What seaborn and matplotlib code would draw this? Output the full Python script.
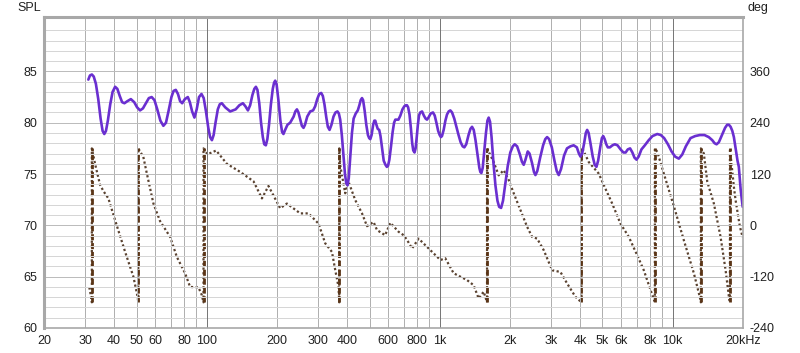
import numpy as np
import pandas as pd
import matplotlib
matplotlib.use("Agg")
import matplotlib.pyplot as plt
import seaborn as sns
from matplotlib.ticker import FixedLocator, NullFormatter

# ---------------- data ----------------
spl_freq = [31.0, 31.5, 32.1, 32.7, 33.4, 34.2, 35.0, 35.7, 36.3, 36.9, 37.6, 38.5, 39.4, 40.4,
            41.3, 42.3, 43.3, 44.3, 45.6, 47.2, 48.8, 50.2, 51.7, 53.2, 54.8, 56.4, 58.0, 59.6,
            61.3, 63.2, 65.1, 66.8, 68.6, 70.5, 72.0, 73.6, 75.2, 76.8, 78.4, 80.5, 82.9, 84.6,
            86.5, 88.5, 90.5, 92.6, 94.9, 97.0, 99.2, 101.5, 103.3, 105.2, 107.0, 109.0, 111.5,
            113.7, 116.0, 120.0, 126.0, 133.0, 138.0, 142.9, 146.5, 150.2, 153.5, 157.0, 160.0,
            162.5, 165.0, 168.0, 171.0, 174.0, 176.5, 179.3, 182.0, 185.0, 188.5, 192.0, 194.5,
            196.7, 199.5, 203.0, 207.0, 210.5, 213.4, 217.0, 222.0, 228.0, 236.0, 240.0, 243.8,
            247.5, 252.0, 256.0, 260.2, 264.0, 270.0, 278.0, 286.0, 292.0, 298.0, 304.0, 310.0,
            315.0, 320.0, 326.0, 331.0, 336.6, 343.0, 350.0, 357.0, 364.0, 369.0, 374.0, 380.0,
            386.0, 392.0, 397.0, 402.0, 407.0, 414.0, 420.0, 427.0, 436.0, 445.0, 452.0, 458.0,
            463.9, 469.0, 476.0, 484.0, 492.0, 498.0, 503.5, 510.0, 518.0, 524.0, 529.0, 535.0,
            542.0, 550.0, 557.0, 565.0, 575.0, 585.0, 593.0, 600.0, 608.0, 618.0, 628.0, 637.0,
            645.0, 655.0, 665.0, 678.0, 692.0, 705.0, 715.0, 723.8, 732.0, 742.0, 752.0, 762.0,
            770.0, 780.0, 788.0, 797.0, 806.0, 815.0, 825.0, 840.0, 855.0, 870.0, 882.0, 895.0,
            915.0, 936.0, 952.0, 968.0, 985.0, 1000.0, 1012.0, 1023.0, 1040.0, 1058.0, 1075.0,
            1093.0, 1111.0, 1130.0, 1155.0, 1180.0, 1205.0, 1230.0, 1255.0, 1276.0, 1300.0,
            1330.0, 1355.0, 1377.0, 1400.0, 1425.0, 1455.0, 1480.0, 1495.0, 1510.0, 1530.0,
            1555.0, 1580.0, 1603.0, 1623.0, 1645.0, 1670.0, 1700.0, 1735.0, 1770.0, 1800.0,
            1835.0, 1870.0, 1910.0, 1960.0, 2010.0, 2060.0, 2100.0, 2150.0, 2210.0, 2255.0,
            2295.0, 2335.0, 2388.0, 2430.0, 2490.0, 2540.0, 2577.0, 2625.0, 2700.0, 2780.0,
            2840.0, 2892.0, 2950.0, 3030.0, 3110.0, 3180.0, 3244.0, 3320.0, 3420.0, 3520.0,
            3643.0, 3760.0, 3880.0, 3960.0, 4023.0, 4090.0, 4170.0, 4240.0, 4297.0, 4360.0,
            4440.0, 4540.0, 4630.0, 4710.0, 4790.0, 4890.0, 4970.0, 5035.0, 5110.0, 5190.0,
            5271.0, 5380.0, 5520.0, 5650.0, 5800.0, 5980.0, 6150.0, 6286.0, 6420.0, 6570.0,
            6720.0, 6860.0, 7000.0, 7150.0, 7350.0, 7600.0, 7900.0, 8200.0, 8595.0, 8900.0,
            9200.0, 9550.0, 9900.0, 10250.0, 10636.0, 11000.0, 11400.0, 11940.0, 12500.0,
            13100.0, 13700.0, 14300.0, 14800.0, 15150.0, 15450.0, 15800.0, 16300.0, 16800.0,
            17150.0, 17450.0, 17750.0, 18050.0, 18330.0, 18650.0, 19000.0, 19250.0, 19600.0,
            20000.0]
spl_db = [84.2, 84.6, 84.7, 84.5, 83.8, 82.3, 80.4, 79.2, 78.9, 79.2, 80.2, 81.8, 83.0, 83.5,
          83.3, 82.6, 82.0, 81.9, 82.1, 82.3, 82.0, 81.5, 81.2, 81.4, 81.9, 82.4, 82.5, 82.2,
          81.3, 80.2, 79.7, 80.0, 81.2, 82.5, 83.1, 83.2, 82.8, 82.1, 81.9, 82.3, 82.5, 82.0,
          81.1, 80.5, 81.3, 82.5, 82.8, 82.4, 81.1, 79.5, 78.6, 78.3, 78.8, 80.0, 81.3,
          81.8, 81.9, 81.5, 81.1, 81.3, 81.7, 81.9, 81.6, 81.2, 81.7, 82.7, 83.3,
          83.5, 83.2, 81.9, 80.0, 78.6, 77.9, 77.8, 78.4, 79.8, 81.8, 83.3, 83.9,
          84.1, 83.7, 82.2, 80.2, 79.1, 78.9, 79.3, 79.8, 80.0, 80.6, 81.1, 81.3,
          81.0, 80.3, 79.7, 79.5, 79.8, 80.6, 81.1, 81.2, 81.6, 82.3, 82.8, 82.9,
          82.6, 81.8, 80.5, 79.6, 79.3, 79.8, 80.6, 81.0, 81.1, 80.9, 80.3, 78.8,
          76.9, 75.0, 74.1, 73.9, 74.6, 77.0, 79.0, 80.4, 80.9, 81.2, 81.7, 82.2,
          82.4, 82.2, 81.2, 79.8, 78.8, 78.5, 78.4, 78.8, 79.8, 80.2, 80.2, 79.8,
          79.4, 79.3, 78.7, 77.6, 76.3, 75.9, 75.7, 75.8, 76.4, 77.7, 79.1, 80.0,
          80.3, 80.3, 80.3, 80.7, 81.3, 81.6, 81.7, 81.7, 81.5, 80.8, 79.5, 78.0,
          77.3, 77.1, 77.5, 78.6, 79.8, 80.7, 81.0, 81.1, 80.7, 80.4, 80.3, 80.5,
          80.9, 81.0, 80.7, 80.0, 79.2, 78.8, 78.6, 78.7, 79.3, 80.2, 80.8,
          81.1, 81.2, 81.0, 80.4, 79.6, 78.8, 78.1, 77.7, 77.6, 77.9,
          78.8, 79.4, 79.6, 79.3, 78.3, 76.8, 75.6, 75.2, 75.1, 75.6,
          77.3, 79.0, 80.2, 80.5, 80.1, 78.6, 76.2, 73.9, 72.4, 71.8,
          71.7, 72.4, 73.9, 75.8, 77.1, 77.7, 77.9, 77.7, 76.9, 76.2,
          75.9, 76.4, 77.2, 77.0, 76.1, 75.2, 74.9, 75.3, 76.6, 77.8,
          78.4, 78.6, 78.4, 77.6, 76.3, 75.3, 74.9, 75.5, 76.8, 77.5,
          77.7, 77.8, 77.6, 77.0, 76.7, 77.0, 78.0, 79.0, 79.3, 79.0,
          78.0, 76.7, 75.9, 75.7, 76.3, 77.6, 78.5, 78.7, 78.4, 77.9,
          77.6, 77.6, 77.8, 77.9, 77.8, 77.4, 77.1, 77.1, 77.4, 77.5,
          77.1, 76.6, 76.4, 76.7, 77.4, 77.8, 78.3, 78.7, 78.9, 78.8,
          78.5, 77.9, 77.2, 76.7, 76.5, 76.9, 77.7, 78.5, 78.7,
          78.8, 78.8, 78.6, 78.3, 78.0, 77.9, 78.1, 78.8, 79.5,
          79.8, 79.8, 79.6, 79.2, 78.6, 77.5, 76.3, 75.7, 73.5,
          71.8]

# wrapped phase (deg); a repeated frequency marks a wrap from -180 to +180
phase_freq = [31.3, 31.8, 32.1, 32.1, 33.1, 34.8, 36.0, 37.8, 40.4, 44.6, 48.4, 50.5, 50.8,
              50.8, 53.4, 55.3, 59.0, 63.0, 69.6, 74.4, 80.7, 84.8, 92.1, 95.2, 96.8,
              96.8, 100.6, 109.7, 121.9, 139.1, 158.7, 172.5, 184.0, 206.6, 220.8, 251.9, 273.4,
              301.9, 322.5, 344.6, 356.2, 367.8, 370.5,
              370.5, 374, 393, 406, 434, 464, 487.5, 520, 538, 583, 614, 666, 700, 724, 761, 812,
              912, 1007, 1057, 1148, 1311, 1399, 1470, 1545, 1597,
              1597, 1706, 1792, 1883, 1979, 2079, 2221, 2372, 2494, 2621, 2797, 3040, 3300, 3526,
              3827, 4063,
              4063, 4131, 4366, 4821, 5066, 5504, 5975, 6487, 7049, 7524, 8039, 8392,
              8392, 8596, 9170, 10124, 11178, 12342, 13080, 13225,
              13225, 13620, 14090, 15040, 16070, 16890, 17450, 17630,
              17630, 18330, 18640, 19250, 19450, 20000]
phase_deg = [-145, -165, -180, 180, 145, 95, 80, 63, 12, -62, -120, -168, -180,
             180, 160, 121, 51, 10, -27, -74, -112, -144, -145, -163, -180,
             180, 166, 175, 144, 125, 103, 63, 92, 40, 51, 28, 28,
             4, -42, -62, -105, -144, -180,
             180, 140, 75, 102, 59, 28, -2, 8, -11, -23, 6, -15, -23, -34, -54, -31,
             -58, -81, -77, -112, -128, -140, -171, -155, -180,
             180, 148, 117, 129, 106, 75, 36, -3, -27, -31, -58, -105, -109, -136,
             -167, -180,
             180, 176, 148, 121, 94, 51, 4, -27, -70, -105, -151, -180,
             180, 172, 121, 45, -35, -112, -167, -180,
             180, 168, 102, 51, -27, -105, -167, -180,
             180, 90, 59, 12, -3, -28]

x_tick_values = [20, 30, 40, 50, 60, 80, 100, 200, 300, 400, 600, 800, 1000, 2000, 3000,
                 4000, 5000, 6000, 8000, 10000, 20000]
x_tick_labels = ["20", "30", "40", "50", "60", "80", "100", "200", "300", "400", "600", "800",
                 "1k", "2k", "3k", "4k", "5k", "6k", "8k", "10k", "20kHz"]
spl_ticks = [60, 65, 70, 75, 80, 85]
deg_ticks = [-240, -120, 0, 120, 240, 360]

# ---------------- style ----------------
sns.set_theme(style="white")
plt.rcParams['font.family'] = ['Liberation Sans', 'DejaVu Sans']

W, H = 800, 353
fig = plt.figure(figsize=(W / 100, H / 100), dpi=100)
fig.patch.set_facecolor("white")
L, R, T, B = 44, 742.7, 17, 328
ax = fig.add_axes([L / W, 1 - B / H, (R - L) / W, (B - T) / H])
ax2 = ax.twinx()

spl_lo, spl_hi = 60, 90.3
ax.set_xscale("log")

# layering: SPL axes on top
ax.set_zorder(2)
ax2.set_zorder(1)
ax.patch.set_visible(False)

# grid
grid_lw = 0.72  # one pixel
minor_x = [m * 10 ** d for d in range(1, 5) for m in range(1, 10) if 20 < m * 10 ** d < 20000]
ax.xaxis.set_major_locator(FixedLocator(x_tick_values))
ax.set_xticklabels(x_tick_labels)
ax.xaxis.set_minor_locator(FixedLocator(minor_x))
ax.xaxis.set_minor_formatter(NullFormatter())
ax.set_yticks(spl_ticks)
ax.yaxis.set_minor_locator(FixedLocator(list(range(61, 90))))
ax.grid(False)
ax.grid(which="minor", axis="y", color="#d6d6d6", linewidth=grid_lw, antialiased=False)
ax.grid(which="major", axis="y", color="#bcbcbc", linewidth=grid_lw, antialiased=False)
ax.grid(which="both", axis="x", color="#b0b0b0", linewidth=grid_lw, antialiased=False)
for d in [100, 1000, 10000]:
    ax.axvline(d, color="#787878", linewidth=grid_lw, zorder=0.6, antialiased=False)
ax.set_axisbelow(True)

# phase traces
phase_df = pd.DataFrame({"freq": phase_freq, "deg": phase_deg})
sns.lineplot(data=phase_df, x="freq", y="deg", ax=ax2, sort=False, estimator=None,
             color="#5a4230", linewidth=1.6, linestyle=(0, (1, 1.1)))
pf = np.array(phase_freq)
wraps = pf[:-1][np.isclose(pf[:-1], pf[1:])]
ax2.vlines(wraps, -180, 180, colors="#5a3416", linewidth=2.0,
           linestyles=(0, (2.2, 1.0)), gapcolor="#eab98a")

# SPL trace
spl_df = pd.DataFrame({"freq": spl_freq, "spl": spl_db})
sns.lineplot(data=spl_df, x="freq", y="spl", ax=ax, sort=False, estimator=None,
             color="#6a2fd0", linewidth=1.9)

ax.set_xlim(20, 20000)
ax.set_ylim(spl_lo, spl_hi)
ax2.set_ylim((spl_lo - 70) * 24, (spl_hi - 70) * 24)
ax2.set_yticks(deg_ticks)
ax2.set_yticklabels([str(v) for v in deg_ticks])
ax.set_xlabel("")
ax.set_ylabel("")
ax2.set_ylabel("")

for a in (ax, ax2):
    a.tick_params(which="both", length=0, labelsize=9, colors="#202020")
ax.tick_params(axis="x", pad=5)
ax.tick_params(axis="y", pad=5)
ax2.tick_params(axis="y", pad=5)

for s in ax2.spines.values():
    s.set_visible(False)
for name, s in ax.spines.items():
    s.set_visible(True)
    s.set_color("#a8a8a8")
    s.set_linewidth(2.2 if name in ("left", "top") else 1.2)

fig.text(17 / W, 1 - 8 / H, "SPL", fontsize=9, va="center", ha="left", color="#202020")
fig.text(747 / W, 1 - 8 / H, "deg", fontsize=9, va="center", ha="left", color="#202020")

fig.savefig("out.png", dpi=100)
